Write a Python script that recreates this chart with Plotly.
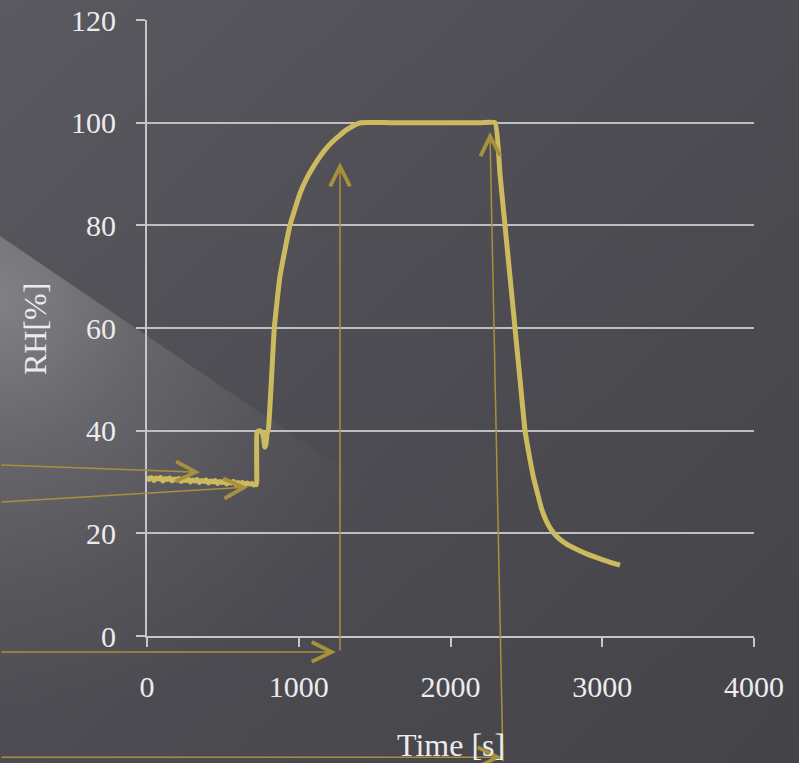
import base64
import plotly.graph_objects as go

# ---- data ----
time_s = [0, 15, 30, 45, 60, 75, 90, 105, 120, 135, 150, 165, 180, 195, 210, 225, 240, 255,
          270, 285, 300, 315, 330, 345, 360, 375, 390, 405, 420, 435, 450, 465, 480, 495,
          510, 525, 540, 555, 570, 585, 600, 615, 630, 645, 660, 675, 690, 705, 716, 722,
          725, 740, 755, 768, 776, 784, 792, 799,
          821, 839, 876, 942, 1008, 1050, 1096, 1135, 1173, 1215, 1261, 1305, 1349, 1380, 1410,
          1600, 1800, 2000, 2200, 2293,
          2326, 2359, 2392, 2425, 2458, 2491, 2520, 2546, 2575, 2600, 2630, 2666, 2710, 2765,
          2830, 2897, 2960, 3040, 3117]
rh_pct = [31.0, 30.5, 30.9, 30.3, 30.8, 30.6, 30.9, 30.2, 30.7, 30.5, 30.8, 30.2, 30.6, 30.4,
          30.7, 30.1, 30.5, 30.3, 30.6, 30.0, 30.4, 30.2, 30.5, 29.9, 30.3, 30.1, 30.4, 29.8,
          30.2, 30.0, 30.3, 29.7, 30.1, 29.9, 30.2, 29.6, 30.0, 29.8, 30.1, 29.5, 29.9, 29.7,
          29.9, 29.4, 29.8, 29.6, 29.7, 29.4, 29.6, 29.5,
          39.7, 40.0, 39.8, 38.6, 36.8, 37.4, 39.6, 40.0,
          50.5, 60.0, 70.0, 80.0, 86.2, 89.0, 91.4, 93.2, 94.7, 96.1, 97.3, 98.4, 99.2, 99.7, 100.0,
          100.0, 100.0, 100.0, 100.0, 100.0,
          90.0, 80.0, 70.0, 60.0, 50.0, 40.0, 35.0, 31.0, 27.6, 24.8, 22.5, 20.6, 19.1, 17.9,
          16.9, 16.0, 15.3, 14.5, 13.8]

x_ticks = [0, 1000, 2000, 3000, 4000]
y_ticks = [0, 20, 40, 60, 80, 100, 120]
x_title = "Time [s]"
y_title = "RH[%]"

# arrow annotations: (head_x, head_y, tail_x, tail_y) in data units
arrows = [
    (349, 31.9, -969, 33.3),
    (666, 29.0, -969, 26.1),
    (1245, -3.1, -969, -3.1),
    (1272, 92.3, 1272, -3.1),
    (2339, -23.6, -969, -23.6),
    (2260, 98.2, 2346, -24.7),
]

# ---- background (dark slide with diagonal light stripe) ----
svg = '''<svg xmlns="http://www.w3.org/2000/svg" width="799" height="763" viewBox="0 0 799 763">
<defs>
<linearGradient id="base" x1="0" y1="0" x2="1" y2="1">
<stop offset="0" stop-color="#5a595f"/><stop offset="0.45" stop-color="#4e4d53"/><stop offset="1" stop-color="#444348"/>
</linearGradient>
<radialGradient id="glow" cx="0" cy="300" r="420" gradientUnits="userSpaceOnUse">
<stop offset="0" stop-color="#ffffff" stop-opacity="0.26"/>
<stop offset="0.35" stop-color="#ffffff" stop-opacity="0.12"/>
<stop offset="0.7" stop-color="#ffffff" stop-opacity="0.04"/>
<stop offset="1" stop-color="#ffffff" stop-opacity="0"/>
</radialGradient>
</defs>
<rect width="799" height="763" fill="url(#base)"/>
<polygon points="0,236 775,763 0,763" fill="url(#glow)"/>
</svg>'''
src = "data:image/svg+xml;base64," + base64.b64encode(svg.encode()).decode()

W, H = 799, 763
L, R, T, B = 147, 45, 20, 127
pw, ph = W - L - R, H - T - B
YMAX = 120.0

fig = go.Figure()
fig.add_trace(go.Scatter(x=time_s, y=rh_pct, mode="lines",
                         line=dict(color="#cbbb5e", width=5, shape="spline", smoothing=0.4),
                         hoverinfo="skip"))

axis_col = "#c6c6ca"
fig.update_xaxes(range=[0, 4000], tickvals=x_ticks, showgrid=False, zeroline=False,
                 showline=True, linecolor=axis_col, linewidth=2, automargin=False,
                 ticks="outside", ticklen=9, tickwidth=2, tickcolor=axis_col,
                 tickfont=dict(size=30, color="#ececee"), ticklabelstandoff=14)
fig.update_yaxes(range=[0, YMAX], tickvals=y_ticks, showgrid=True, gridcolor="#bebec3",
                 gridwidth=2, zeroline=False, automargin=False,
                 showline=True, linecolor=axis_col, linewidth=2,
                 ticks="outside", ticklen=9, tickwidth=2, tickcolor=axis_col,
                 tickfont=dict(size=30, color="#ececee"), ticklabelstandoff=14)

annotations = []
for hx, hy, tx, ty in arrows:
    annotations.append(dict(x=hx, y=hy / YMAX, ax=tx, ay=ty / YMAX,
                            xref="x", yref="y domain", axref="x", ayref="y domain",
                            text="", showarrow=True, arrowhead=5, arrowsize=2.6,
                            arrowwidth=1.5, arrowcolor="#a8913c"))
annotations.append(dict(x=2000, xref="x", y=(636 - 745) / ph, yref="paper",
                        text=x_title, showarrow=False,
                        font=dict(size=32, color="#ececee"), xanchor="center", yanchor="middle"))
annotations.append(dict(x=(35 - L) / pw, xref="paper", y=(636 - 329) / ph, yref="paper",
                        text=y_title, textangle=-90, showarrow=False,
                        font=dict(size=32, color="#ececee"), xanchor="center", yanchor="middle"))

fig.update_layout(
    width=W, height=H, margin=dict(l=L, r=R, t=T, b=B, autoexpand=False),
    paper_bgcolor="#4d4c52", plot_bgcolor="rgba(0,0,0,0)",
    font=dict(family="Liberation Serif, DejaVu Serif, serif"),
    showlegend=False, annotations=annotations,
    images=[dict(source=src, xref="paper", yref="paper", x=-L / pw, y=(H - B) / ph,
                 sizex=W / pw, sizey=H / ph, xanchor="left", yanchor="top",
                 sizing="stretch", layer="below")],
)

fig.write_html("out.html")
